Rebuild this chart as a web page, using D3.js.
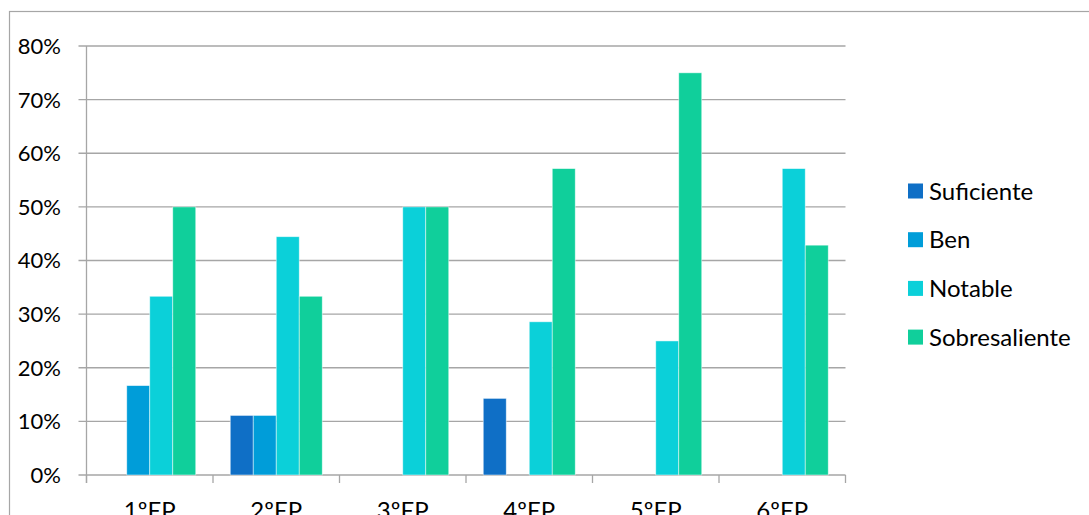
<!DOCTYPE html>
<html>
<head>
<meta charset="utf-8">
<script src="https://cdn.jsdelivr.net/npm/d3@7"></script>
<style>
  body { margin: 0; background: #fff; }
  svg { display: block; font-family: Lato, "Open Sans", sans-serif; }
</style>
</head>
<body>
<script>
// datos
const cursos = ["1ºEP", "2ºEP", "3ºEP", "4ºEP", "5ºEP", "6ºEP"];
const series = ["Suficiente", "Ben", "Notable", "Sobresaliente"];
const suficiente = [0, 11.11, 0, 14.29, 0, 0];
const ben = [16.67, 11.11, 0, 0, 0, 0];
const notable = [33.33, 44.44, 50, 28.57, 25, 57.14];
const sobresaliente = [50, 33.33, 50, 57.14, 75, 42.86];
const valores = [suficiente, ben, notable, sobresaliente];
const colores = ["#0F6FC6", "#009DD9", "#0BD0D9", "#10CF9B"];
const ticksY = [0, 10, 20, 30, 40, 50, 60, 70, 80];

const width = 1089, height = 515;
const plotL = 86.5, plotR = 845.5, plotT = 46, plotB = 475;

const svg = d3.select("body").append("svg")
  .attr("width", width)
  .attr("height", height);

// borde do gráfico
svg.append("rect")
  .attr("x", 9.5).attr("y", 11.5)
  .attr("width", 1200).attr("height", 600)
  .attr("fill", "none").attr("stroke", "#a6a6a6").attr("stroke-width", 1.2);

const x0 = d3.scaleBand().domain(cursos).range([plotL, plotR]).paddingInner(0).paddingOuter(0);
// gap 150% -> 5.5 barras por categoría
const bw = x0.bandwidth() / 5.5;
const x1 = d3.scaleBand().domain(series).range([bw * 0.75, bw * 4.75]);
const y = d3.scaleLinear().domain([0, 80]).range([plotB, plotT]);

// liñas de grella
svg.append("g").selectAll("line").data(ticksY).enter().append("line")
  .attr("x1", plotL - 8).attr("x2", plotR)
  .attr("y1", d => y(d)).attr("y2", d => y(d))
  .attr("stroke", "#a6a6a6").attr("stroke-width", 1.3);

// eixo vertical
svg.append("line")
  .attr("x1", plotL).attr("x2", plotL).attr("y1", plotT).attr("y2", plotB + 8)
  .attr("stroke", "#a6a6a6").attr("stroke-width", 1.3);

// marcas do eixo x
svg.append("g").selectAll("line").data(d3.range(cursos.length + 1)).enter().append("line")
  .attr("x1", i => plotL + i * x0.bandwidth()).attr("x2", i => plotL + i * x0.bandwidth())
  .attr("y1", plotB).attr("y2", plotB + 8)
  .attr("stroke", "#a6a6a6").attr("stroke-width", 1.3);

// barras
const grupo = svg.append("g").selectAll("g").data(cursos).enter().append("g")
  .attr("transform", d => `translate(${x0(d)},0)`);

grupo.selectAll("rect")
  .data((d, i) => series.map((s, j) => ({ s, j, v: valores[j][i] })).filter(e => e.v > 0))
  .enter().append("rect")
  .attr("x", d => x1(d.s))
  .attr("width", x1.bandwidth())
  .attr("y", d => y(d.v))
  .attr("height", d => plotB - y(d.v))
  .attr("fill", d => colores[d.j])
  .attr("stroke", "#ffffff").attr("stroke-opacity", 0.6).attr("stroke-width", 0.8);

// etiquetas eixo y
svg.append("g").selectAll("text").data(ticksY).enter().append("text")
  .attr("x", 61).attr("y", d => y(d))
  .attr("dy", "0.36em")
  .attr("text-anchor", "end")
  .attr("font-size", 22)
  .attr("fill", "#000")
  .text(d => d + "%");

// etiquetas eixo x
svg.append("g").selectAll("text").data(cursos).enter().append("text")
  .attr("x", d => x0(d) + x0.bandwidth() / 2)
  .attr("y", 519)
  .attr("text-anchor", "middle")
  .attr("font-size", 24)
  .attr("fill", "#000")
  .text(d => d);

// lenda
const lenda = svg.append("g").selectAll("g").data(series).enter().append("g")
  .attr("transform", (d, i) => `translate(908,${191 + i * 48.7})`);

lenda.append("rect")
  .attr("x", 0).attr("y", -7.5).attr("width", 15).attr("height", 15)
  .attr("fill", (d, i) => colores[i]);

lenda.append("text")
  .attr("x", 21).attr("y", 0).attr("dy", "0.36em")
  .attr("font-size", 24)
  .attr("fill", "#000")
  .text(d => d);
</script>
</body>
</html>
